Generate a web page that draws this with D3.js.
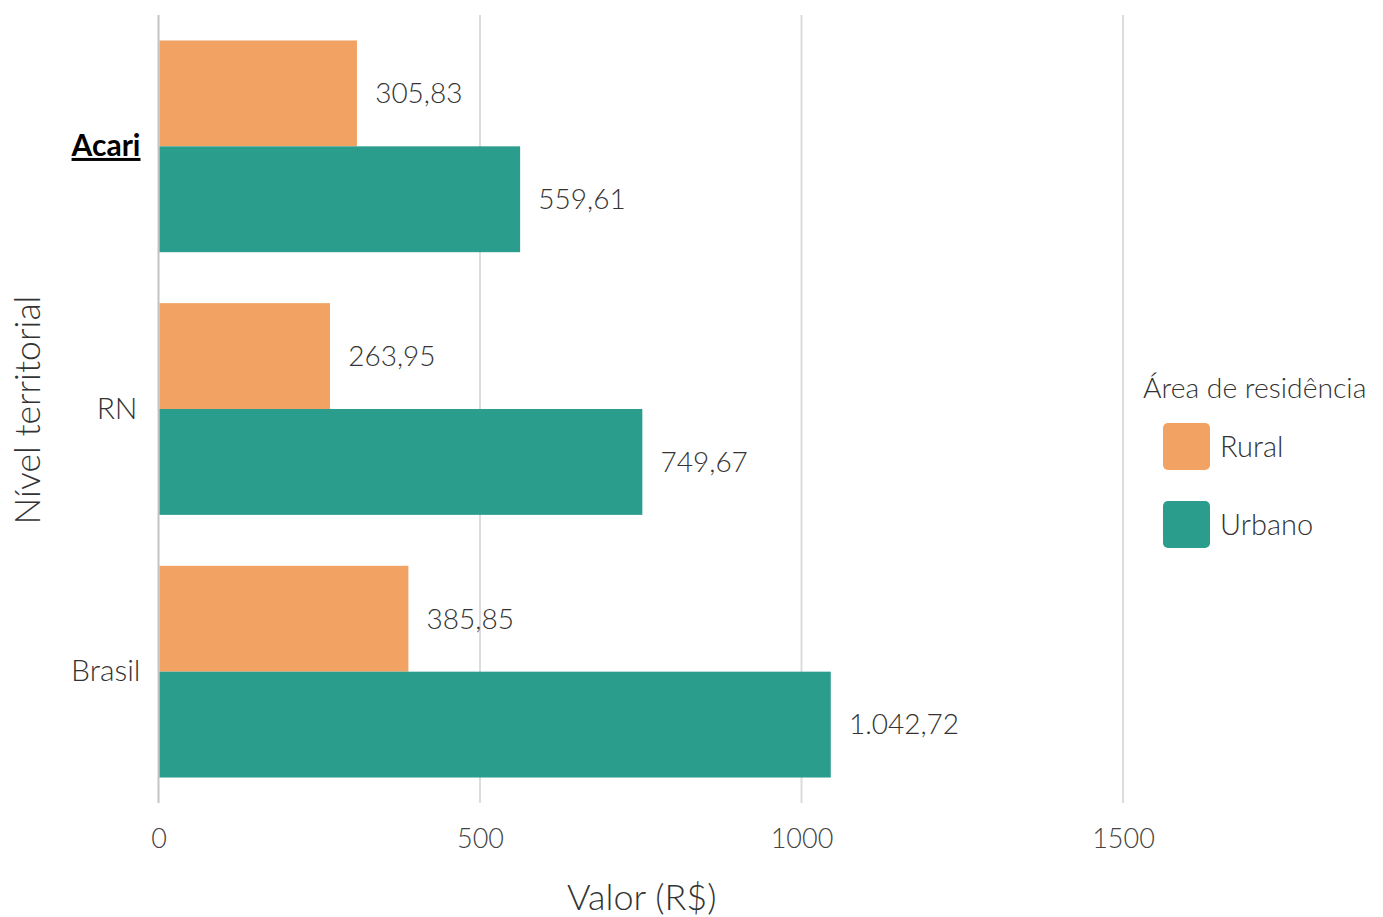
<!DOCTYPE html>
<html>
<head>
<meta charset="utf-8">
<script src="https://cdn.jsdelivr.net/npm/d3@7"></script>
<style>
  body { margin: 0; background: #fff; }
  svg text { font-family: Lato, "Open Sans", sans-serif; font-weight: 300; }
</style>
</head>
<body>
<svg id="chart" width="1383" height="917"></svg>
<script>
// data
let categories = ["Acari", "RN", "Brasil"];
let series = ["Rural", "Urbano"];
let ruralValues = [305.83, 263.95, 385.85];
let urbanoValues = [559.61, 749.67, 1042.72];
let xTicks = [0, 500, 1000, 1500];
let colors = ["#f2a262", "#2a9d8c"];

let rows = [];
categories.forEach((c, i) => {
  rows.push({cat: c, serie: "Rural", value: ruralValues[i]});
  rows.push({cat: c, serie: "Urbano", value: urbanoValues[i]});
});

const svg = d3.select("#chart");
const plotTop = 15, plotBottom = 803, plotLeft = 158.5;

const x = d3.scaleLinear().domain([0, 1500]).range([plotLeft, 1123]);
const y = d3.scaleBand().domain(categories).range([plotTop, plotBottom])
  .paddingInner(0.194).paddingOuter(0.097);
const ySub = d3.scaleBand().domain(series).range([0, y.bandwidth()]);
const color = d3.scaleOrdinal().domain(series).range(colors);

let fmt = d3.formatLocale({decimal: ",", thousands: ".", grouping: [3], currency: ["R$", ""]}).format(",.2f");

// grid
svg.append("g").selectAll("line")
  .data(xTicks)
  .join("line")
  .attr("x1", d => x(d)).attr("x2", d => x(d))
  .attr("y1", plotTop).attr("y2", plotBottom)
  .attr("stroke", d => d === 0 ? "#c4c4c4" : "#dcdcdc")
  .attr("stroke-width", 2);

// bars
svg.append("g").selectAll("rect")
  .data(rows)
  .join("rect")
  .attr("x", x(0) + 1)
  .attr("y", d => y(d.cat) + ySub(d.serie))
  .attr("width", d => x(d.value) - x(0) + 0.8)
  .attr("height", ySub.bandwidth())
  .attr("fill", d => color(d.serie));

// value labels
svg.append("g").selectAll("text")
  .data(rows)
  .join("text")
  .attr("x", d => x(d.value) + 20)
  .attr("y", d => y(d.cat) + ySub(d.serie) + ySub.bandwidth() / 2)
  .attr("dy", "0.35em")
  .attr("font-size", 28)
  .attr("fill", "#333")
  .text(d => fmt(d.value));

// x axis
const xAxis = svg.append("g")
  .attr("transform", `translate(0,${plotBottom})`)
  .call(d3.axisBottom(x).tickValues(xTicks).tickSize(0).tickPadding(26).tickFormat(d3.format("d")));
xAxis.select(".domain").remove();
xAxis.selectAll("text").attr("font-size", 27).attr("fill", "#444")
  .style("font-family", "Lato, sans-serif").style("font-weight", 300);

// y axis
const yAxis = svg.append("g")
  .attr("transform", `translate(${plotLeft - 18},0)`)
  .call(d3.axisLeft(y).tickSize(0).tickPadding(0));
yAxis.select(".domain").remove();
yAxis.selectAll("text")
  .attr("font-size", 30)
  .attr("fill", d => d === "Acari" ? "#000" : "#333")
  .style("font-family", "Lato, sans-serif")
  .style("font-weight", d => d === "Acari" ? 700 : 300)
  .style("text-decoration", d => d === "Acari" ? "underline" : null);
yAxis.selectAll("text").filter(d => d === "RN").attr("dx", -3);

// axis titles
svg.append("text")
  .attr("x", (x(0) + 1123) / 2 + 1).attr("y", 910)
  .attr("text-anchor", "middle")
  .attr("font-size", 36).attr("fill", "#333")
  .text("Valor (R$)");

svg.append("text")
  .attr("transform", `translate(40,${(plotTop + plotBottom) / 2 + 1}) rotate(-90)`)
  .attr("text-anchor", "middle")
  .attr("font-size", 35.5).attr("fill", "#333")
  .text("Nível territorial");

// legend
const legend = svg.append("g");
legend.append("text")
  .attr("x", 1143).attr("y", 398)
  .attr("font-size", 28.3).attr("fill", "#333")
  .text("Área de residência");

const key = legend.selectAll("g.key")
  .data(series)
  .join("g")
  .attr("class", "key")
  .attr("transform", (d, i) => `translate(1163,${423 + i * 78})`);
key.append("rect")
  .attr("width", 47).attr("height", 47)
  .attr("rx", 5)
  .attr("fill", d => color(d));
key.append("text")
  .attr("x", 57).attr("y", 23.5).attr("dy", "0.35em")
  .attr("font-size", 29).attr("fill", "#333")
  .text(d => d);
</script>
</body>
</html>
